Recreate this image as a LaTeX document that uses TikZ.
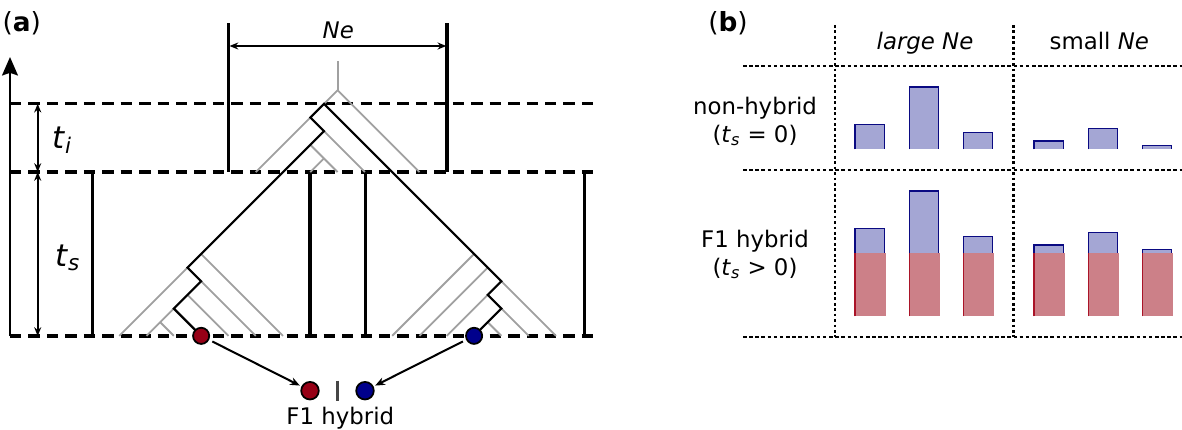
\documentclass[tikz,border=0pt]{standalone}
\usepackage{fontspec}
\setmainfont{DejaVu Sans}
\usetikzlibrary{arrows.meta}

\definecolor{lingray}{RGB}{160,160,160}
\definecolor{hybred}{RGB}{150,0,22}
\definecolor{hybblue}{RGB}{0,0,140}
\definecolor{sepgray}{RGB}{70,70,70}
\definecolor{barblue}{RGB}{164,166,212}
\definecolor{barnavy}{RGB}{10,10,130}
\definecolor{barred}{RGB}{204,128,136}
\definecolor{barredge}{RGB}{170,20,40}

\begin{document}
\begin{tikzpicture}[x=0.02cm, y=-0.02cm,
  font=\fontsize{13}{15.4}\selectfont,
  genline/.style={line width=1.05pt, draw=lingray},
  sampleline/.style={line width=1.25pt, draw=black},
  popbar/.style={line width=2.2pt},
  timeline/.style={line width=1.8pt, dash pattern=on 6.5pt off 4pt},
  spanarrow/.style={line width=1.1pt, {Stealth[length=5pt,width=4pt]}-{Stealth[length=5pt,width=4pt]}},
  timearrow/.style={line width=1.3pt, -{Stealth[length=10.5pt,width=9pt,inset=1.5pt]}},
  hybarrow/.style={line width=1.15pt, -{Stealth[length=5.5pt,width=4.5pt]}, shorten <=2pt, shorten >=1pt},
  gene/.style={circle, draw=black, line width=1pt, minimum size=9.2pt, inner sep=0pt},
  tlabel/.style={font=\fontsize{17.5}{20}\selectfont, anchor=base west},
  panel/.style={font=\fontsize{15}{18}\selectfont, anchor=base},
  griddots/.style={line width=1.6pt, dash pattern=on 1.6pt off 1.5pt},
  rowdots/.style={line width=1.3pt, dash pattern=on 2pt off 1.5pt},
  blueedge/.style={line width=0.7pt, draw=barnavy},
  rededge/.style={line width=0.7pt, draw=barredge}]
\useasboundingbox (0,0) rectangle (1182,429);

% (a) lineages in two populations
\node[panel] (alabel) at (21.7,32) {(\textbf{a})};

\coordinate (tstart) at (10,336);
\coordinate (tend) at (10,57);
\draw[timearrow] (tstart) -- (tend);

\draw[timeline] (10,103.7) -- (598,103.7);
\draw[timeline] (10,172) -- (598,172);
\draw[timeline] (10,336) -- (598,336);

\coordinate (ti1) at (37.7,103.7);
\coordinate (ti2) at (37.7,172);
\coordinate (ts2) at (37.7,336);
\draw[spanarrow] (ti1) -- (ti2);
\draw[spanarrow] (ti2) -- (ts2);
\node[tlabel] (tilabel) at (46,148) {\textit{t}\textsubscript{\textit{i}}};
\node[tlabel] (tslabel) at (49,266) {\textit{t}\textsubscript{\textit{s}}};

% ancestral population
\draw[popbar] (228.5,23.3) -- (228.5,172);
\draw[popbar] (447.3,23.3) -- (447.3,172);
\coordinate (ne1) at (229.5,46);
\coordinate (ne2) at (446.3,46);
\draw[spanarrow] (ne1) -- (ne2);
\node[anchor=base] (nelabel) at (338.3,38.3) {\textit{Ne}};

% daughter populations
\draw[popbar] (92.5,172) -- (92.5,336);
\draw[popbar] (310,172) -- (310,336);
\draw[popbar] (365.5,172) -- (365.5,336);
\draw[popbar] (584.5,172) -- (584.5,336);

\draw[genline] (337.6,61) -- (337.6,90.2);
\begin{scope}[shift={(337.6,90.2)}, x={(-0.273cm,-0.273cm)}, y={(0.273cm,-0.273cm)}]
% grey lineages
\draw[genline] (0,0) -- (6,0);
\draw[genline] (0,0) -- (0,6);
\draw[genline] (2,1) -- (2,4);
\draw[genline] (3,1) -- (3,3);
\draw[genline] (3,2) -- (4,2);
\draw[genline] (12,1) -- (17,1);
\draw[genline] (11,1) -- (11,7);
\draw[genline] (12,2) -- (12,6);
\draw[genline] (13,2) -- (13,5);
\draw[genline] (14,2) -- (16,2);
\draw[genline] (15,2) -- (15,3);
\draw[genline] (1,11) -- (7,11);
\draw[genline] (1,12) -- (6,12);
\draw[genline] (2,13) -- (5,13);
\draw[genline] (1,13) -- (1,17);
\draw[genline] (2,14) -- (2,16);
\draw[genline] (3,14) -- (3,15);
% sampled lineage
\draw[sampleline] (14,4) -- (14,2) -- (12,2) -- (12,1) -- (2,1) -- (2,0)
  -- (1,0) -- (1,13) -- (2,13) -- (2,14) -- (4,14);
\node[gene, fill=hybred] (r1) at (14,4) {};
\node[gene, fill=hybblue] (b1) at (4,14) {};
\end{scope}

\node[gene, fill=hybred, minimum size=10pt] (r2) at (310,390.7) {};
\node[gene, fill=hybblue, minimum size=10pt] (b2) at (365,390.7) {};
\draw[line width=1.4pt, sepgray] (337.3,380.5) -- (337.3,400.5);
\draw[hybarrow] (r1) -- (r2);
\draw[hybarrow] (b1) -- (b2);
\node[anchor=base] (f1label) at (340.3,424.3) {F1 hybrid};

% (b) expected distributions
\node[panel] (blabel) at (728,32) {(\textbf{b})};
\node[anchor=base] (large) at (925,50) {\textit{large Ne}};
\node[anchor=base] (small) at (1099.3,50) {small \textit{Ne}};
\node[align=center] (nonhyb) at (755,121.5) {non-hybrid\\(\textit{t}\textsubscript{\textit{s}} = 0)};
\node[align=center] (hyb) at (755,254.5) {F1 hybrid\\(\textit{t}\textsubscript{\textit{s}} > 0)};

% top row
\fill[barblue] (855,149.3) rectangle (884.3,124.3);
\draw[blueedge] (855,149.3) |- (884.3,124.3) -- (884.3,149.3);
\fill[barblue] (909.3,149.3) rectangle (938.7,87);
\draw[blueedge] (909.3,149.3) |- (938.7,87) -- (938.7,149.3);
\fill[barblue] (963.3,149.3) rectangle (992.7,132.7);
\draw[blueedge] (963.3,149.3) |- (992.7,132.7) -- (992.7,149.3);
\fill[barblue] (1034,149.3) rectangle (1063.3,141);
\draw[blueedge] (1034,149.3) |- (1063.3,141) -- (1063.3,149.3);
\fill[barblue] (1088.3,149.3) rectangle (1117.7,128.3);
\draw[blueedge] (1088.3,149.3) |- (1117.7,128.3) -- (1117.7,149.3);
\fill[barblue] (1142.7,149.3) rectangle (1171.7,145.3);
\draw[blueedge] (1142.7,149.3) |- (1171.7,145.3) -- (1171.7,149.3);

% bottom row
\fill[barblue] (855,316) rectangle (884.3,228.3);
\draw[blueedge] (855,316) |- (884.3,228.3) -- (884.3,316);
\fill[barblue] (909.3,316) rectangle (938.7,191);
\draw[blueedge] (909.3,316) |- (938.7,191) -- (938.7,316);
\fill[barblue] (963.3,316) rectangle (992.7,236.7);
\draw[blueedge] (963.3,316) |- (992.7,236.7) -- (992.7,316);
\fill[barblue] (1034,316) rectangle (1063.3,245);
\draw[blueedge] (1034,316) |- (1063.3,245) -- (1063.3,316);
\fill[barblue] (1088.3,316) rectangle (1117.7,232.3);
\draw[blueedge] (1088.3,316) |- (1117.7,232.3) -- (1117.7,316);
\fill[barblue] (1142.7,316) rectangle (1171.7,249.3);
\draw[blueedge] (1142.7,316) |- (1171.7,249.3) -- (1171.7,316);

\fill[barred] (855,316) rectangle (885.8,253.3);
\draw[rededge] (855,316) -- (855,253.3);
\fill[barred] (909.3,316) rectangle (940.2,253.3);
\draw[rededge] (909.3,316) -- (909.3,253.3);
\fill[barred] (963.3,316) rectangle (994.2,253.3);
\draw[rededge] (963.3,316) -- (963.3,253.3);
\fill[barred] (1034,316) rectangle (1064.8,253.3);
\draw[rededge] (1034,316) -- (1034,253.3);
\fill[barred] (1088.3,316) rectangle (1119.2,253.3);
\draw[rededge] (1088.3,316) -- (1088.3,253.3);
\fill[barred] (1142.7,316) rectangle (1173.2,253.3);
\draw[rededge] (1142.7,316) -- (1142.7,253.3);

\draw[griddots] (835,25) -- (835,337);
\draw[griddots] (1013.7,25) -- (1013.7,337);
\draw[rowdots] (743,66) -- (1182,66);
\draw[rowdots] (743,170) -- (1182,170);
\draw[rowdots] (743,336.7) -- (1182,336.7);
\end{tikzpicture}
\end{document}
